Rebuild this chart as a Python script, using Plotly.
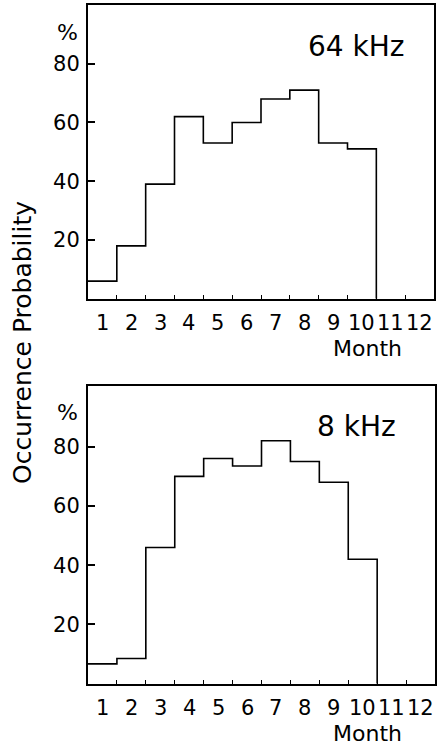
import plotly.graph_objects as go

# ---- data ----
months = [1, 2, 3, 4, 5, 6, 7, 8, 9, 10, 11, 12]
month_labels = ["1", "2", "3", "4", "5", "6", "7", "8", "9", "10", "11", "12"]
prob_64khz = [6, 18, 39, 62, 53, 60, 68, 71, 53, 51, None, None]
prob_8khz = [6.7, 8.5, 46, 70, 76, 73.5, 82, 75, 68, 42, None, None]
y_ticks = [20, 40, 60, 80]
panel_titles = ["64 kHz", "8 kHz"]

W, H = 442, 746
FONT = "DejaVu Sans"


def step_xy(ms, vals):
    pts = [(m, v) for m, v in zip(ms, vals) if v is not None]
    xs, ys = [], []
    for m, v in pts:
        xs += [m - 0.5, m + 0.5]
        ys += [v, v]
    # drop to zero after last bin
    xs.append(pts[-1][0] + 0.5)
    ys.append(0)
    return xs, ys


fig = go.Figure()

panels = [
    dict(vals=prob_64khz, xd=[88 / W, 434 / W], ybot=298.7, ytop=5.0, yr=[0, 100]),
    dict(vals=prob_8khz, xd=[88 / W, 435 / W], ybot=683.7, ytop=385.7, yr=[0, 100.6]),
]


def ann(x, y, text, size, **kw):
    fig.add_annotation(
        x=x / W, y=1 - y / H, xref="paper", yref="paper", text=text,
        showarrow=False, xanchor="center", yanchor="middle",
        font=dict(family=FONT, size=size, color="black"), **kw)


for i, p in enumerate(panels):
    xs, ys = step_xy(months, p["vals"])
    sfx = "" if i == 0 else "2"
    fig.add_trace(go.Scatter(
        x=xs, y=ys, mode="lines", line=dict(color="black", width=1.6),
        xaxis="x" + sfx, yaxis="y" + sfx, showlegend=False, hoverinfo="skip"))
    xa = dict(
        domain=p["xd"], range=[0.5, 12.5], anchor="y" + sfx,
        tickmode="array", tickvals=[m + 0.5 for m in months[:-1]], ticktext=[""] * 11,
        ticks="inside", ticklen=4, tickwidth=1.3, tickcolor="black",
        showline=True, linecolor="black", linewidth=2, mirror=True,
        showgrid=False, zeroline=False, fixedrange=True,
    )
    ya = dict(
        domain=[1 - p["ybot"] / H, 1 - p["ytop"] / H], range=p["yr"], anchor="x" + sfx,
        tickmode="array", tickvals=y_ticks, ticktext=[str(t) for t in y_ticks],
        ticks="inside", ticklen=7, tickwidth=1.5, tickcolor="black",
        showline=True, linecolor="black", linewidth=2, mirror=True,
        showgrid=False, zeroline=False, fixedrange=True,
        tickfont=dict(family=FONT, size=21, color="black"), ticklabelstandoff=2,
    )
    fig.layout["xaxis" + sfx] = xa
    fig.layout["yaxis" + sfx] = ya

    # month labels centred on each bin
    for m, lab in zip(months, month_labels):
        fig.add_annotation(
            x=m, y=0, xref="x" + sfx, yref="y" + sfx, text=lab, showarrow=False,
            xanchor="center", yanchor="top", yshift=-10,
            font=dict(family=FONT, size=21, color="black"))
    ann(367, p["ybot"] + 50, "Month", 22)
    ann(67, p["ytop"] + 27, "%", 22)
    ann(356, p["ytop"] + 41, panel_titles[i], 28)

ann(22, 343, "Occurrence Probability", 25, textangle=-90)

fig.update_layout(
    width=W, height=H, autosize=False,
    margin=dict(l=0, r=0, t=0, b=0),
    paper_bgcolor="white", plot_bgcolor="white",
)

fig.write_html("out.html", config={"displayModeBar": False},
               post_script="document.body.style.margin='0';")
